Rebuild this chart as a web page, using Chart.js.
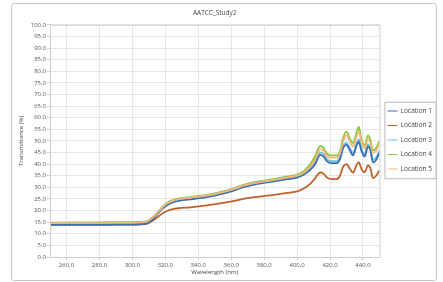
<!DOCTYPE html>
<html>
<head>
<meta charset="utf-8">
<script src="https://cdn.jsdelivr.net/npm/chart.js@4.4.1/dist/chart.umd.min.js"></script>
<style>
  body { margin: 0; background: #fff; }
  #wrap { position: relative; width: 443px; height: 282px; }
  #frame { position: absolute; left: 11px; top: 3px; width: 424px; height: 276px;
           border: 1.5px solid #c6c6c6; border-radius: 3px; pointer-events: none; }
</style>
</head>
<body>
<div id="wrap">
  <canvas id="canvas" width="443" height="282"></canvas>
  <div id="frame"></div>
</div>
<script>
// wavelengths (nm)
var wl = [250, 270, 290, 305, 309, 312, 315, 318, 321, 324, 328, 335, 345, 355, 362, 368, 374, 382, 392, 400,
          404, 408, 411, 414, 416, 418, 421, 424, 426, 428, 430, 432, 434, 436, 437.5, 439, 441, 443, 444.5, 446, 448, 450];

var loc1 = [13.8, 13.8, 13.9, 14.1, 14.5, 16.0, 18.3, 20.6, 22.3, 23.4, 24.2, 24.8, 25.8, 27.3, 28.7, 30.2, 31.2, 32.1, 33.3, 34.2,
            35.4, 37.5, 40.0, 44.0, 43.3, 41.3, 40.4, 40.4, 42.0, 47.0, 48.3, 46.0, 43.8, 47.8, 49.6, 45.8, 43.2, 47.5, 46.0, 40.8, 41.8, 44.8];
var loc2 = [14.0, 14.0, 14.0, 14.1, 14.4, 15.5, 17.0, 18.6, 19.8, 20.5, 21.0, 21.4, 22.2, 23.3, 24.2, 25.1, 25.8, 26.4, 27.4, 28.3,
            29.5, 31.5, 34.0, 36.4, 35.9, 34.3, 33.5, 33.5, 35.0, 39.0, 40.0, 38.0, 36.3, 39.5, 40.9, 38.0, 36.5, 39.5, 38.3, 34.0, 35.0, 37.3];
var loc3 = [14.3, 14.3, 14.4, 14.6, 15.0, 16.5, 18.8, 21.1, 22.9, 24.0, 24.8, 25.4, 26.4, 27.9, 29.3, 30.8, 31.8, 32.7, 33.9, 34.8,
            36.0, 38.2, 40.8, 45.0, 44.3, 42.2, 41.3, 41.3, 43.0, 48.0, 49.3, 47.0, 44.8, 48.8, 50.6, 46.8, 44.2, 48.5, 47.0, 41.8, 42.8, 45.8];
var loc4 = [14.8, 14.9, 15.0, 15.1, 15.5, 17.0, 19.0, 21.5, 23.3, 24.4, 25.2, 25.8, 26.8, 28.3, 29.7, 31.2, 32.2, 33.1, 34.4, 35.5,
            37.0, 40.0, 43.5, 47.8, 47.0, 44.5, 43.8, 43.8, 45.5, 51.5, 54.0, 51.0, 49.0, 53.5, 56.0, 51.0, 48.0, 52.4, 50.5, 46.0, 47.0, 50.0];
var loc5 = [14.6, 14.7, 14.8, 14.9, 15.3, 16.8, 18.8, 21.2, 23.0, 24.1, 24.9, 25.5, 26.4, 27.9, 29.3, 30.8, 31.8, 32.7, 34.0, 35.0,
            36.3, 39.0, 42.0, 46.5, 45.8, 43.5, 42.8, 42.8, 44.5, 50.0, 52.5, 49.8, 47.5, 51.8, 54.0, 49.8, 46.8, 50.8, 49.2, 44.8, 45.8, 49.0];

var nomes = ['Location 1', 'Location 2', 'Location 3', 'Location 4', 'Location 5'];
var cores = ['#3d6fb0', '#c0622b', '#6ec3df', '#8cc63f', '#f3b57a'];
var series = [loc1, loc2, loc3, loc4, loc5];
var ordem = [1, 4, 2, 3, 0]; // blue on top of cyan, green on top of light orange

function pontos(vals){
  var out = [];
  for (var i = 0; i < wl.length; i++) out.push({x: wl[i], y: vals[i]});
  return out;
}

var datasets = [];
for (var i = 0; i < series.length; i++){
  datasets.push({
    label: nomes[i],
    data: pontos(series[i]),
    borderColor: cores[i],
    backgroundColor: cores[i],
    borderWidth: 1.8,
    pointRadius: 0,
    cubicInterpolationMode: 'monotone',
    order: ordem[i]
  });
}

var fonte = { family: 'Open Sans', size: 6 };

var moldura = {
  id: 'moldura',
  afterDraw: function(chart){
    var ctx = chart.ctx, a = chart.chartArea;
    ctx.save();
    ctx.strokeStyle = '#cfcfcf';
    ctx.lineWidth = 1;
    ctx.strokeRect(a.left + 0.5, a.top + 0.5, a.right - a.left, a.bottom - a.top);
    var lg = chart.legend, hb = lg.legendHitBoxes;
    if (hb && hb.length){
      var top = hb[0].top - 6, bottom = hb[hb.length - 1].top + hb[hb.length - 1].height + 6;
      ctx.strokeStyle = '#b8b8b8';
      ctx.strokeRect(lg.left + 5.5, top + 0.5, 436 - lg.left - 5.5, bottom - top);
    }
    ctx.restore();
  }
};

new Chart(document.getElementById('canvas').getContext('2d'), {
  type: 'line',
  data: { datasets: datasets },
  plugins: [moldura],
  options: {
    responsive: false,
    animation: false,
    layout: { padding: { left: 14, right: 1, top: 4, bottom: 6 } },
    plugins: {
      title: {
        display: true,
        text: 'AATCC_Study2',
        fullSize: false,
        color: '#444',
        font: { family: 'Open Sans', size: 6.5, weight: 'normal' },
        padding: { top: 5, bottom: 8 }
      },
      legend: {
        position: 'right',
        labels: {
          usePointStyle: true,
          pointStyle: 'line',
          pointStyleWidth: 10,
          boxHeight: 6,
          padding: 8,
          color: '#444',
          font: { family: 'Open Sans', size: 6.5 },
          sort: function(a, b){ return a.datasetIndex - b.datasetIndex; },
          generateLabels: function(chart){
            var itens = Chart.defaults.plugins.legend.labels.generateLabels(chart);
            for (var k = 0; k < itens.length; k++) itens[k].lineWidth = 1.2;
            return itens;
          }
        }
      },
      tooltip: { enabled: false }
    },
    scales: {
      x: {
        type: 'linear',
        min: 250,
        max: 450,
        afterBuildTicks: function(s){
          s.ticks = [260, 280, 300, 320, 340, 360, 380, 400, 420, 440].map(function(v){ return {value: v}; });
        },
        afterFit: function(s){ s.height = 19; },
        ticks: {
          color: '#555',
          font: fonte,
          padding: 2,
          maxRotation: 0,
          callback: function(v){ return Number(v).toFixed(1); }
        },
        grid: { color: '#e6e6e6', tickLength: 3, tickColor: '#cfcfcf' },
        border: { color: '#cfcfcf' },
        title: { display: true, text: 'Wavelength (nm)', color: '#444', font: fonte, padding: 0 }
      },
      y: {
        min: 0,
        max: 100,
        afterFit: function(s){ s.width = 36; },
        ticks: {
          stepSize: 5,
          color: '#555',
          font: fonte,
          padding: 1,
          callback: function(v){ return Number(v).toFixed(1); }
        },
        grid: { color: '#e6e6e6', tickLength: 3, tickColor: '#cfcfcf' },
        border: { color: '#cfcfcf' },
        title: { display: true, text: 'Transmittance (%)', color: '#444', font: fonte, padding: { top: 4, bottom: 0 } }
      }
    }
  }
});
</script>
</body>
</html>
